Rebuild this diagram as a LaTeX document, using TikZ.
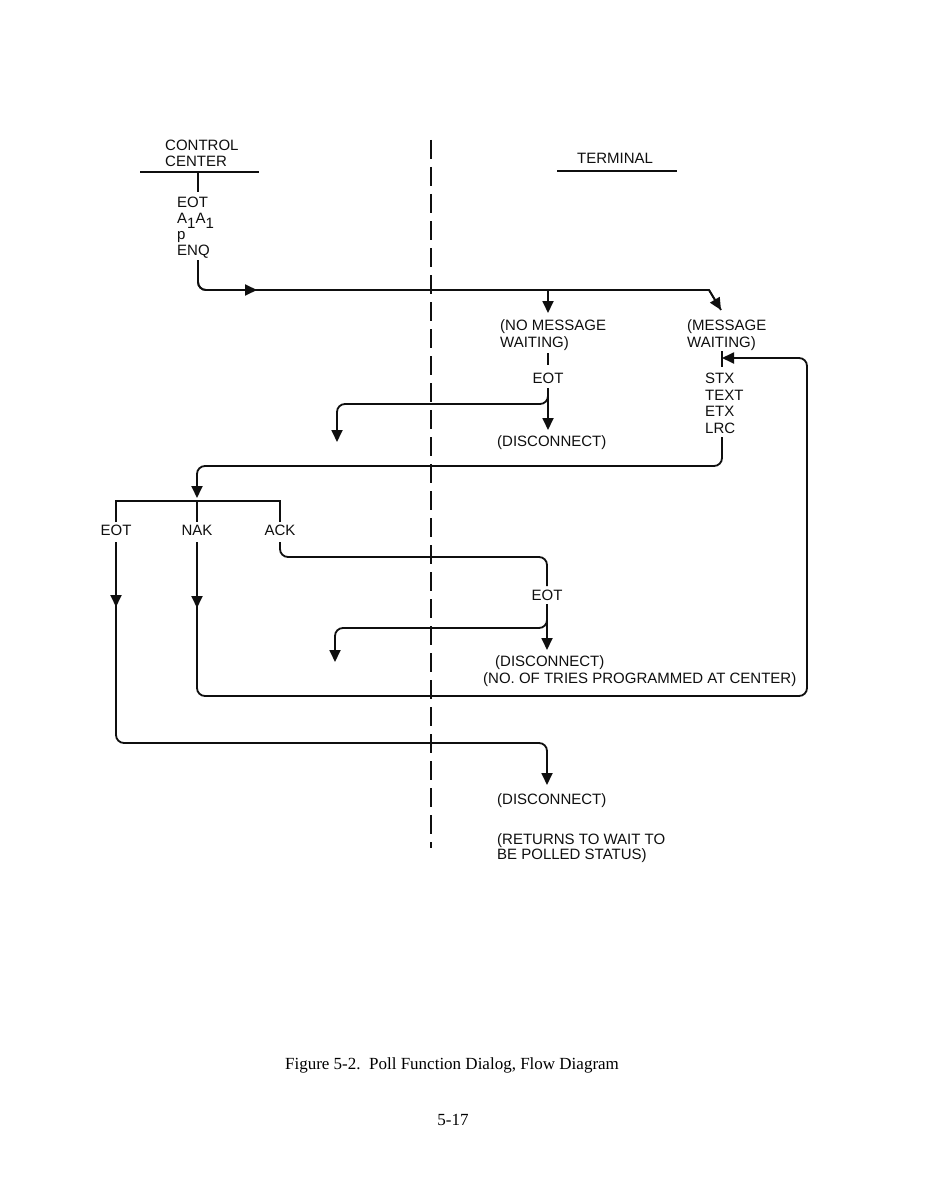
\documentclass[tikz,border=0pt]{standalone}
\usepackage{fontspec}
\setmainfont{Liberation Serif}
\setsansfont{Liberation Sans}
\usetikzlibrary{arrows.meta}
\definecolor{inkc}{gray}{0.06}
\tikzset{
  lbl/.style     = {font=\sffamily\fontsize{15}{17}\selectfont, text=inkc,
                    inner sep=0pt, align=left, anchor=north west},
  lblc/.style    = {lbl, anchor=north},
  edg/.style     = {draw=inkc, line width=1.8pt, rounded corners=8pt},
  arr/.style     = {draw=inkc, line width=1.8pt,
                    -{Triangle[length=12pt,width=11pt]}},
  hrule/.style   = {draw=inkc, line width=1.5pt},
  sepline/.style = {draw=inkc, line width=1.8pt, dash pattern=on 19pt off 8pt},
  capt/.style    = {font=\rmfamily\fontsize{17}{20}\selectfont, inner sep=0pt,
                    anchor=north},
}
\newcommand{\lowone}{\raisebox{-4.5pt}{1}}

\begin{document}
\begin{tikzpicture}[x=1pt,y=-1pt]
  \fill[white] (0,0) rectangle (925,1193);
  \useasboundingbox (0,0) rectangle (925,1193);

  % headings
  \node[lbl, font=\sffamily\fontsize{15}{15.5}\selectfont] (ctrl) at (165,140) {CONTROL\\CENTER};
  \node[lblc] (term) at (615,153) {TERMINAL};
  \draw[hrule] (140,172) -- (259,172);
  \draw[hrule] (557,171) -- (677,171);

  % center / terminal divide
  \coordinate (divtop) at (431,140);
  \coordinate (divbot) at (431,848);
  \draw[sepline] (divtop) -- (divbot);

  % poll sequence
  \node[lbl, font=\sffamily\fontsize{15}{16}\selectfont] (poll) at (177,197)
    {EOT\\A\lowone A\lowone\\p\\ENQ};
  \draw[edg] (198,172) -- (198,192);
  \coordinate (pollout) at (198,260);
  \coordinate (pollbend) at (198,290);
  \coordinate (nomsgin) at (548,313);
  \coordinate (msgin) at (721,310);
  \draw[edg] (pollout) -- (pollbend) [sharp corners] -- (709,290) -- (msgin);
  \draw[arr] (pollout) [rounded corners=8pt] -- (pollbend) -- (257,290);
  \draw[arr] (548,290) -- (nomsgin);
  \draw[arr] (709,290) -- (msgin);

  % no message waiting
  \node[lbl] (nomsg) at (500,319) {(NO MESSAGE\\WAITING)};
  \draw[edg] (548,353) -- (548,365);
  \node[lblc] (eota) at (548,373) {EOT};
  \node[lbl] (disca) at (497,435) {(DISCONNECT)};
  \draw[arr] (548,388) -- (548,430);
  \draw[arr, rounded corners=8pt] (548,388) -- (548,404) -- (337,404) -- (337,442);

  % message waiting
  \node[lbl] (msg) at (687,319) {(MESSAGE\\WAITING)};
  \draw[edg] (722,351) -- (722,367);
  \node[lbl, font=\sffamily\fontsize{15}{16.5}\selectfont] (blk) at (705,373)
    {STX\\TEXT\\ETX\\LRC};
  \coordinate (blkout) at (722,437);
  \coordinate (ansin) at (197,498);
  \draw[arr, rounded corners=8pt] (blkout) -- (722,466) -- (197,466) -- (ansin);

  % center answers
  \node[lblc] (eotl) at (116,525) {EOT};
  \node[lblc] (nakl) at (197,525) {NAK};
  \node[lblc] (ackl) at (280,525) {ACK};
  \draw[edg, rounded corners=0pt] (116,522) -- (116,501) -- (280,501) -- (280,522);
  \draw[edg] (197,501) -- (197,522);

  % ack -> terminal eot
  \node[lblc] (eotb) at (547,590) {EOT};
  \draw[edg] (280,542) -- (280,557) -- (547,557) -- (547,586);
  \draw[arr] (547,604) -- (547,650);
  \draw[arr, rounded corners=8pt] (547,604) -- (547,628) -- (335,628) -- (335,662);
  \node[lbl] (discb) at (495,655) {(DISCONNECT)};
  \node[lbl] (tries) at (483,672) {(NO. OF TRIES PROGRAMMED AT CENTER)};

  % nak -> retransmit
  \draw[edg] (197,542) -- (197,696) -- (807,696) -- (807,358) [sharp corners] -- (735,358);
  \draw[arr] (197,542) -- (197,608);
  \draw[arr] (760,358) -- (722,358);

  % eot -> disconnect
  \draw[edg] (116,542) -- (116,743) -- (547,743) -- (547,775);
  \draw[arr] (116,542) -- (116,607);
  \draw[arr] (547,760) -- (547,785);
  \node[lbl] (discc) at (497,793) {(DISCONNECT)};
  \node[lbl, font=\sffamily\fontsize{15}{15.5}\selectfont] (ret) at (497,833)
    {(RETURNS TO WAIT TO\\BE POLLED STATUS)};

  % caption
  \node[capt] (cap) at (452,1057) {Figure 5-2.\ \ Poll Function Dialog, Flow Diagram};
  \node[capt] (pgno) at (453,1114) {5-17};
\end{tikzpicture}
\end{document}
